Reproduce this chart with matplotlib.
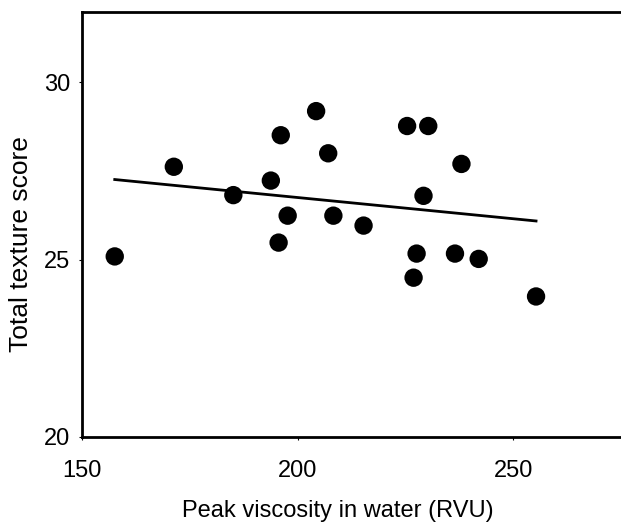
import matplotlib
matplotlib.use('Agg')
import matplotlib.pyplot as plt

# peak viscosity (RVU) vs total texture score
viscosity = [157.6, 171.3, 185.1, 193.8, 196.1, 195.6, 197.7, 204.3, 207.1, 208.3,
             215.3, 225.4, 230.3, 229.2, 238.0, 227.6, 226.9, 236.5, 242.0, 255.3]
texture = [25.09, 27.62, 26.82, 27.23, 28.51, 25.48, 26.24, 29.19, 28.00, 26.24,
           25.96, 28.77, 28.77, 26.80, 27.70, 25.17, 24.49, 25.17, 25.02, 23.96]

# regression line as drawn (end points)
fit_x = [157.6, 255.3]
fit_y = [27.26, 26.09]

x_ticks = [150, 200, 250]
y_ticks = [20, 25, 30]

plt.rcParams['font.family'] = ['Liberation Sans', 'DejaVu Sans']

fig = plt.figure(figsize=(6.21, 5.25), dpi=100)
ax = fig.add_axes([0.132, 0.168, 0.868, 0.81])

ax.plot(fit_x, fit_y, color='black', linewidth=2.0, zorder=2)
ax.scatter(viscosity, texture, s=175, color='black', edgecolors='none', zorder=3)

ax.set_xlim(150, 275)
ax.set_ylim(20, 32)
ax.set_xticks(x_ticks)
ax.set_yticks(y_ticks)

for side in ['left', 'bottom', 'top']:
    ax.spines[side].set_linewidth(2.0)
ax.spines['right'].set_visible(False)

ax.tick_params(axis='both', direction='out', length=2.5, width=0.8, labelsize=17)
ax.tick_params(axis='x', pad=14)
ax.tick_params(axis='y', pad=6)

ax.set_xlabel('Peak viscosity in water (RVU)', fontsize=17)
ax.set_ylabel('Total texture score', fontsize=19)
ax.xaxis.set_label_coords(0.475, -0.148)
ax.yaxis.set_label_coords(-0.091, 0.454)

fig.savefig('out.png', dpi=100)
